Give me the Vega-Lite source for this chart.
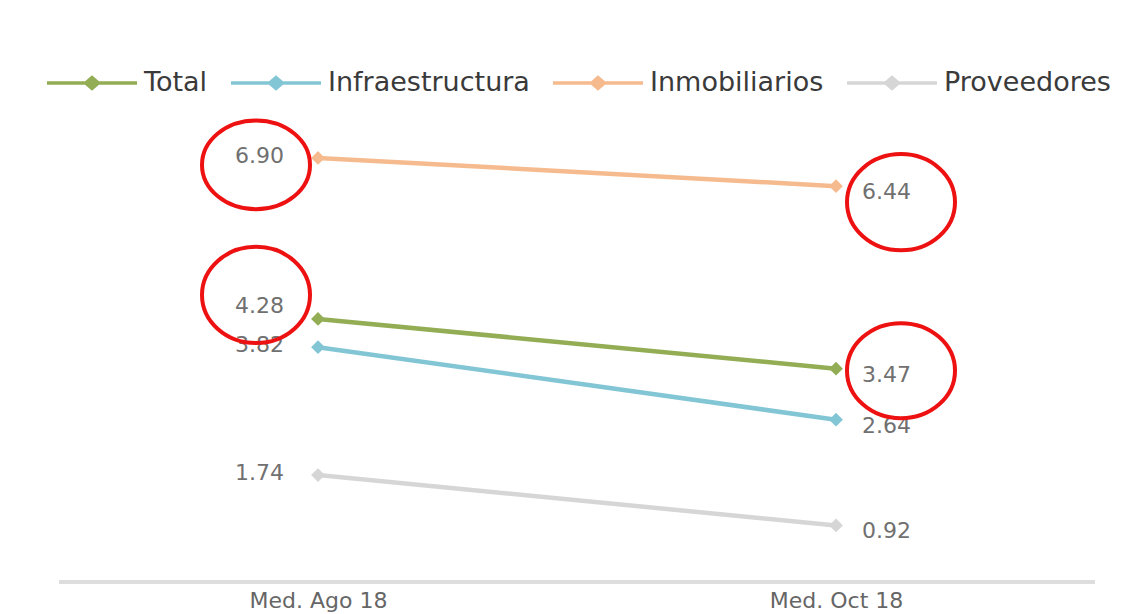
{
  "$schema": "https://vega.github.io/schema/vega-lite/v6.json",
  "width": 1036,
  "height": 461,
  "autosize": {"type": "none"},
  "padding": {"left": 59, "top": 121, "right": 38, "bottom": 32},
  "background": "white",
  "config": {
    "view": {"stroke": null},
    "font": "DejaVu Sans"
  },
  "data": {
    "values": [
      {"series": "Total", "period": "Med. Ago 18", "value": 4.28, "highlight": true},
      {"series": "Total", "period": "Med. Oct 18", "value": 3.47, "highlight": true},
      {"series": "Infraestructura", "period": "Med. Ago 18", "value": 3.82, "highlight": false},
      {"series": "Infraestructura", "period": "Med. Oct 18", "value": 2.64, "highlight": false},
      {"series": "Inmobiliarios", "period": "Med. Ago 18", "value": 6.90, "highlight": true},
      {"series": "Inmobiliarios", "period": "Med. Oct 18", "value": 6.44, "highlight": true},
      {"series": "Proveedores", "period": "Med. Ago 18", "value": 1.74, "highlight": false},
      {"series": "Proveedores", "period": "Med. Oct 18", "value": 0.92, "highlight": false}
    ]
  },
  "encoding": {
    "x": {
      "field": "period",
      "type": "nominal",
      "sort": ["Med. Ago 18", "Med. Oct 18"],
      "scale": {"type": "point", "padding": 0.5},
      "axis": {
        "title": null,
        "domain": false,
        "ticks": false,
        "grid": false,
        "labelAngle": 0,
        "labelPadding": 8,
        "labelFont": "DejaVu Sans",
        "labelFontSize": 22,
        "labelColor": "#666666"
      }
    },
    "y": {
      "field": "value",
      "type": "quantitative",
      "scale": {"domain": [0, 7.5], "nice": false, "zero": true},
      "axis": null
    }
  },
  "layer": [
    {
      "mark": {"type": "rule", "color": "#dddddd", "strokeWidth": 3},
      "encoding": {"y": {"datum": 0}, "x": null}
    },
    {
      "mark": {"type": "line", "strokeWidth": 4.5},
      "encoding": {
        "color": {
          "field": "series",
          "type": "nominal",
          "sort": ["Total", "Infraestructura", "Inmobiliarios", "Proveedores"],
          "scale": {
            "domain": ["Total", "Infraestructura", "Inmobiliarios", "Proveedores"],
            "range": ["#93ad55", "#82c6d5", "#f5bb8e", "#d6d6d6"]
          },
          "legend": {
            "title": null,
            "orient": "none",
            "direction": "horizontal",
            "legendX": -14,
            "legendY": -85,
            "padding": 0,
            "symbolType": "M-1,0L1,0M-0.14,0L0,-0.12L0.14,0L0,0.12Z",
            "symbolSize": 8100,
            "symbolStrokeWidth": 3.5,
            "symbolOpacity": 1,
            "labelFont": "DejaVu Sans",
            "labelFontSize": 27,
            "labelColor": "#3a3a3a",
            "labelOffset": 5,
            "labelLimit": 400,
            "columnPadding": 16
          }
        }
      }
    },
    {
      "mark": {"type": "point", "shape": "diamond", "filled": true, "size": 190, "opacity": 1},
      "encoding": {
        "color": {"field": "series", "type": "nominal"}
      }
    },
    {
      "transform": [{"filter": "datum.period === 'Med. Ago 18' && datum.series !== 'Total'"}],
      "mark": {"type": "text", "align": "right", "baseline": "middle", "dx": -34, "dy": -2, "fontSize": 22, "font": "DejaVu Sans", "color": "#707070"},
      "encoding": {
        "text": {"field": "value", "type": "quantitative", "format": ".2f"}
      }
    },
    {
      "transform": [{"filter": "datum.period === 'Med. Ago 18' && datum.series === 'Total'"}],
      "mark": {"type": "text", "align": "right", "baseline": "middle", "dx": -34, "dy": -13, "fontSize": 22, "font": "DejaVu Sans", "color": "#707070"},
      "encoding": {
        "text": {"field": "value", "type": "quantitative", "format": ".2f"}
      }
    },
    {
      "transform": [{"filter": "datum.period === 'Med. Oct 18'"}],
      "mark": {"type": "text", "align": "left", "baseline": "middle", "dx": 26, "dy": 6, "fontSize": 22, "font": "DejaVu Sans", "color": "#707070"},
      "encoding": {
        "text": {"field": "value", "type": "quantitative", "format": ".2f"}
      }
    },
    {
      "transform": [{"filter": "datum.period === 'Med. Ago 18' && datum.series === 'Inmobiliarios'"}],
      "mark": {"type": "point", "shape": "M-1,0A1,0.82 0 1,1 1,0A1,0.82 0 1,1 -1,0Z", "size": 11664, "filled": false, "stroke": "#ee1111", "strokeWidth": 4, "opacity": 1, "xOffset": -62, "yOffset": 7}
    },
    {
      "transform": [{"filter": "datum.period === 'Med. Ago 18' && datum.series === 'Total'"}],
      "mark": {"type": "point", "shape": "M-1,0A1,0.89 0 1,1 1,0A1,0.89 0 1,1 -1,0Z", "size": 11664, "filled": false, "stroke": "#ee1111", "strokeWidth": 4, "opacity": 1, "xOffset": -62, "yOffset": -24}
    },
    {
      "transform": [{"filter": "datum.period === 'Med. Oct 18' && datum.series === 'Inmobiliarios'"}],
      "mark": {"type": "point", "shape": "M-1,0A1,0.89 0 1,1 1,0A1,0.89 0 1,1 -1,0Z", "size": 11664, "filled": false, "stroke": "#ee1111", "strokeWidth": 4, "opacity": 1, "xOffset": 65, "yOffset": 16}
    },
    {
      "transform": [{"filter": "datum.period === 'Med. Oct 18' && datum.series === 'Total'"}],
      "mark": {"type": "point", "shape": "M-1,0A1,0.88 0 1,1 1,0A1,0.88 0 1,1 -1,0Z", "size": 11664, "filled": false, "stroke": "#ee1111", "strokeWidth": 4, "opacity": 1, "xOffset": 65, "yOffset": 2}
    }
  ]
}
